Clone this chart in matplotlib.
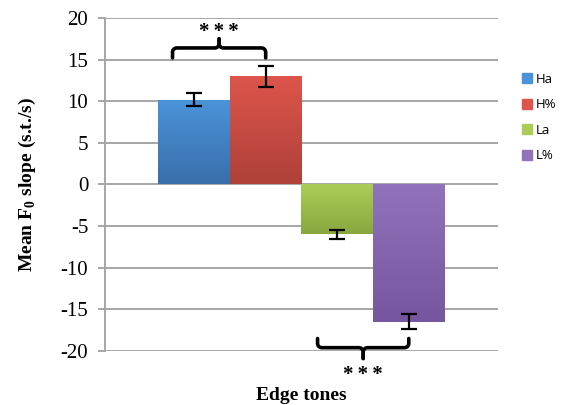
import numpy as np
import matplotlib
matplotlib.use("Agg")
import matplotlib.pyplot as plt
from matplotlib.colors import to_rgb
from matplotlib.lines import Line2D

# data
tones = ["Ha", "H%", "La", "L%"]
means = [10.2, 13.0, -6.0, -16.5]
errors = [0.75, 1.25, 0.5, 0.9]
top_cols = ["#4a93da", "#dd554b", "#abcd57", "#9272ba"]
bot_cols = ["#396faa", "#ae4139", "#88a73f", "#76569f"]
yticks = [-20, -15, -10, -5, 0, 5, 10, 15, 20]

serif = "Liberation Serif"
stars = "*\u2009*\u2009*"

fig = plt.figure(figsize=(5.64, 4.05), dpi=100)
ax = fig.add_axes([0.186, 0.1333, 0.697, 0.8223])

w = 0.182
xs = (np.arange(len(tones)) - 1.5) * w
bars = ax.bar(xs, means, width=w, color="none", edgecolor="none", zorder=2)

# vertical gradient fill, clipped to each bar
for b, c0, c1 in zip(bars, top_cols, bot_cols):
    t = np.linspace(0, 1, 64)[:, None]
    grad = (1 - t) * np.array(to_rgb(c0)) + t * np.array(to_rgb(c1))
    x0, y0 = b.get_x(), b.get_y()
    x1, y1 = x0 + b.get_width(), y0 + b.get_height()
    im = ax.imshow(grad[:, None, :], extent=[x0, x1, min(y0, y1), max(y0, y1)],
                   aspect="auto", origin="upper", zorder=2)
    im.set_clip_path(b)

ax.errorbar(xs, means, yerr=errors, fmt="none", ecolor="black",
            elinewidth=1.6, capsize=5.8, capthick=1.6, zorder=3)

ax.set_xlim(-0.5, 0.5)
ax.set_ylim(-20, 20)
ax.set_yticks(yticks)
ax.set_yticklabels([str(v) for v in yticks], fontfamily=serif, fontsize=15)
ax.set_xticks([])
ax.yaxis.grid(True, color="#a6a6a6", linewidth=1.4)
ax.set_axisbelow(True)
for s in ["top", "right", "bottom"]:
    ax.spines[s].set_visible(False)
ax.spines["left"].set_color("#a6a6a6")
ax.spines["left"].set_linewidth(1.4)
ax.tick_params(axis="y", direction="out", length=5, width=1.4, color="#a6a6a6", pad=7)

ax.set_ylabel("Mean F$_\\mathregular{0}$ slope (s.t./s)", fontfamily=serif,
              fontsize=14, fontweight="bold", labelpad=16)
ax.set_xlabel("Edge tones", fontfamily=serif, fontsize=14, fontweight="bold",
              labelpad=26)

# rounding radius of the brace corners, in data units (about 4 px)
RX, RY = 0.011, 0.5


def arc(cx, cy, a0, a1):
    a = np.linspace(np.radians(a0), np.radians(a1), 8)
    return list(cx + RX * np.cos(a)), list(cy + RY * np.sin(a))


def brace(x0, x1, y_end, y_bar, y_tip):
    s = 1 if y_tip > y_bar else -1   # +1 opens down, -1 opens up
    xm = (x0 + x1) / 2
    bx, by = [x0], [y_end]
    for cx, cy, a0, a1 in [
        (x0 + RX, y_bar - s * RY, 180, 90),
        (xm - RX, y_bar + s * RY, 270, 360),
    ]:
        ax_, ay_ = arc(cx, cy, a0 if s > 0 else -a0, a1 if s > 0 else -a1)
        bx += ax_; by += ay_
    bx += [xm]; by += [y_tip]
    bx2, by2 = [xm], [y_tip]
    for cx, cy, a0, a1 in [
        (xm + RX, y_bar + s * RY, 180, 270),
        (x1 - RX, y_bar - s * RY, 90, 0),
    ]:
        ax_, ay_ = arc(cx, cy, a0 if s > 0 else -a0, a1 if s > 0 else -a1)
        bx2 += ax_; by2 += ay_
    bx2 += [x1]; by2 += [y_end]
    for px, py in [(bx, by), (bx2, by2)]:
        ax.plot(px, py, color="black", lw=2.6, solid_joinstyle="round",
                solid_capstyle="round", clip_on=False, zorder=4)


# significance braces
brace(xs[0] - 0.055, xs[1], 15.2, 16.4, 17.5)
brace(xs[2] - 0.05, xs[3], -18.5, -19.6, -20.9)
ax.text((xs[0] - 0.055 + xs[1]) / 2, 18.3, stars, ha="center", va="center",
        fontfamily=[serif, "DejaVu Serif"], fontsize=15, fontweight="bold",
        clip_on=False)
ax.text((xs[2] - 0.05 + xs[3]) / 2, -22.9, stars, ha="center", va="center",
        fontfamily=[serif, "DejaVu Serif"], fontsize=15, fontweight="bold",
        clip_on=False)

handles = [Line2D([], [], marker="s", linestyle="none", markersize=7.5,
                  markerfacecolor=c, markeredgecolor=c) for c in top_cols]
fig.legend(handles, tones, loc="center left", bbox_to_anchor=(0.925, 0.71),
           frameon=False, prop={"family": "Open Sans", "size": 9.5},
           handlelength=0.8, handletextpad=0.3, labelspacing=0.95,
           borderaxespad=0, borderpad=0)

fig.savefig("out.png", dpi=100)
